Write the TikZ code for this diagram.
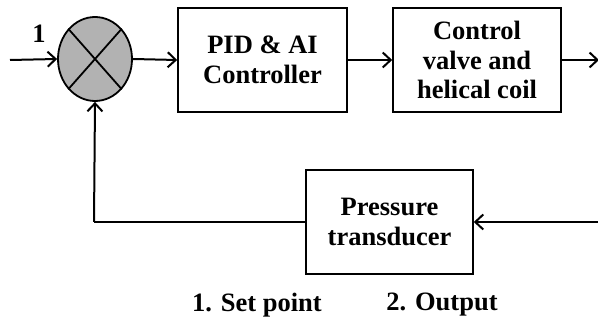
\documentclass[tikz,border=0pt]{standalone}
\usepackage{fontspec}
\setmainfont{Liberation Serif}
\usetikzlibrary{arrows.meta,shapes.geometric}
\begin{document}
\begin{tikzpicture}[x=1pt,y=-1pt,
  blk/.style={draw,line width=1.6pt,inner sep=0pt,align=center,font=\fontsize{26.5}{29.5}\selectfont\bfseries},
  lbl/.style={inner sep=0pt,font=\fontsize{26.5}{29.5}\selectfont\bfseries},
  conn/.style={line width=2pt,-{Straight Barb[length=8pt,width=15pt,line width=2pt]}},
  wire/.style={line width=2pt}]
\useasboundingbox (0,0) rectangle (598,320);
\node[draw,ellipse,fill=black!30,line width=1.8pt,minimum width=74pt,minimum height=84pt,inner sep=0pt] (sum) at (95,59) {};
\draw[line width=1.8pt] (sum.north west) -- (sum.south east) (sum.north east) -- (sum.south west);
\node[blk,minimum width=169pt,minimum height=104pt] (pid) at (262.5,60) {PID \& AI\\Controller};
\node[blk,minimum width=168pt,minimum height=104pt] (cv) at (477,60) {Control\\valve and\\helical coil};
\node[blk,minimum width=167pt,minimum height=104pt] (pt) at (389.5,222) {Pressure\\transducer};
\coordinate (in) at (10,60);
\coordinate (out) at (599,60);
\coordinate (fb) at (598,222);
\coordinate (corner) at (94,222);
\node[lbl] (one) at (39,34) {1};
\node[lbl] (sp) at (257,305) {1. Set point};
\node[lbl] (op) at (442,305) {2. Output};
\draw[conn] (in) -- (sum.west);
\draw[conn] (sum.east) -- (pid.west);
\draw[conn] (pid.east) -- (cv.west);
\draw[conn] (cv.east) -- (out);
\draw[conn] (fb) -- (pt.east);
\draw[wire] (pt.west) -- (corner);
\draw[conn] (corner) -- (sum.south);
\end{tikzpicture}
\end{document}
